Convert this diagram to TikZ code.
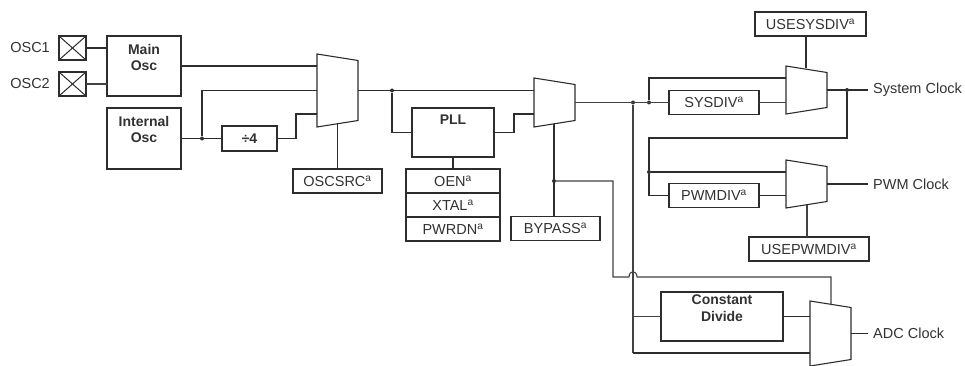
\documentclass[tikz,border=0pt]{standalone}
\usepackage{fontspec}
\setmainfont{Liberation Sans}
\usepackage{xcolor}
\usetikzlibrary{positioning, calc}
\definecolor{cWire}{RGB}{45,45,45}
\definecolor{cText}{RGB}{50,50,50}
\tikzset{
	blk/.style    ={rectangle, draw=cWire, line width=1.3pt, outer sep=0pt, inner sep=0pt, align=center},
	reg/.style    ={blk, minimum height=24pt},
	bigtxt/.style ={inner sep=0pt, align=center, font=\bfseries\fontsize{14}{16.5}\selectfont},
	pad/.style    ={blk, minimum width=27pt, minimum height=24pt, path picture={
			\draw[cWire, line width=1pt] (path picture bounding box.north west) -- (path picture bounding box.south east);
			\draw[cWire, line width=1pt] (path picture bounding box.south west) -- (path picture bounding box.north east);}},
	mux/.style    ={rectangle, outer sep=0pt, inner sep=0pt, minimum width=41pt, minimum height=73pt, append after command={\pgfextra{
			\draw[cWire, line width=1.1pt] (\tikzlastnode.north west) -- ([yshift=-6.5pt]\tikzlastnode.north east) -- ([yshift=6.5pt]\tikzlastnode.south east) -- (\tikzlastnode.south west) -- cycle;}}},
	wire/.style   ={draw=cWire, line width=1.2pt},
	thin wire/.style={draw=cWire!90, line width=1.1pt},
	dot/.style    ={circle, fill=cWire, inner sep=0pt, minimum size=4pt},
	pin/.style    ={inner sep=0pt, anchor=west},
}

\begin{document}
\begin{tikzpicture}[x=1pt, y=-1pt, every node/.style={text=cText, font=\fontsize{14.5}{16.5}\selectfont}]
	\useasboundingbox (0,0) rectangle (965,366);
	% oscillators
	\node[pad] (osca) at (72.5,48) {};
	\node[pad, below=12pt of osca] (oscb) {};
	\node[inner sep=0pt, left=9pt of osca] (oscatxt) {OSC1};
	\node[inner sep=0pt, left=9pt of oscb] (oscbtxt) {OSC2};
	\node[blk, minimum width=74pt, minimum height=60pt] (mainosc) at (144,66) {};
	\node[blk, minimum width=74pt, minimum height=61pt, below=12pt of mainosc] (intosc) {};
	\node[bigtxt, below=8pt of mainosc.north] (mainosctxt) {Main\\Osc};
	\node[bigtxt, below=8pt of intosc.north] (intosctxt) {Internal\\Osc};
	\node[blk, minimum width=55pt, minimum height=25pt, font=\bfseries\fontsize{14}{16}\selectfont] (div4) at (249.5,138.5) {÷4};
	% muxes
	\node[mux] (muxosc) at (337.5,90.5) {};
	\node[mux, minimum height=49pt] (muxpll) at (554.5,102.5) {};
	\node[mux, minimum height=48pt] (muxsys) at (806.5,90) {};
	\node[mux, minimum height=48pt] (muxpwm) at (806.5,184) {};
	\node[mux, minimum height=65pt] (muxadc) at (830.5,333.5) {};
	% pll and its registers
	\node[blk, minimum width=82pt, minimum height=49pt] (pll) at (453,132.5) {};
	\node[bigtxt, below=7pt of pll.north] (plltxt) {PLL};
	\node[reg, minimum width=94pt, below=12pt of pll] (oen) {OEN\textsuperscript{a}};
	\node[reg, minimum width=94pt, below=0pt of oen] (xtal) {XTAL\textsuperscript{a}};
	\node[reg, minimum width=94pt, below=0pt of xtal] (pwrdn) {PWRDN\textsuperscript{a}};
	\node[reg, minimum width=89pt] (oscsrc) at (337.5,181) {OSCSRC\textsuperscript{a}};
	\node[reg, minimum width=89pt] (bypass) at (555.5,228.5) {BYPASS\textsuperscript{a}};
	\node[reg, minimum width=111pt] (usesys) at (810.5,24) {USESYSDIV\textsuperscript{a}};
	\node[reg, minimum width=120pt] (usepwm) at (809,249) {USEPWMDIV\textsuperscript{a}};
	\node[reg, minimum width=90pt] (sysdiv) at (714,102.5) {SYSDIV\textsuperscript{a}};
	\node[reg, minimum width=90pt] (pwmdiv) at (714,195.5) {PWMDIV\textsuperscript{a}};
	\node[blk, minimum width=122pt, minimum height=49pt] (constdiv) at (722,316.5) {};
	\node[bigtxt, below=3pt of constdiv.north] (constdivtxt) {Constant\\Divide};
	% outputs
	\node[pin] (sysclk) at (873,90) {System Clock};
	\node[pin] (pwmclk) at (873,184) {PWM Clock};
	\node[pin] (adcclk) at (873,333.5) {ADC Clock};
	% junctions
	\node[dot] (jpll) at (392,90.5) {};
	\node[dot] (jint) at (202,138.5) {};
	\node[dot] (jbyp) at (554,181) {};
	\node[dot] (jclk) at (633,102.5) {};
	\node[dot] (jsys) at (649,102.5) {};
	\node[dot] (jout) at (847,90) {};
	\node[dot] (jpwm) at (649,172) {};
	\coordinate (jmpa) at (629,277);
	\coordinate (jmpb) at (637,277);
	% left part
	\draw[wire] (osca) -- (osca -| mainosc.west);
	\draw[thin wire] (oscb) -- (oscb -| mainosc.west);
	\draw[wire] (mainosc.east) -- (mainosc.east -| muxosc.west);
	\draw[wire] (intosc.east) -- (div4.west);
	\draw[wire] (jint) |- (muxosc.west);
	\draw[wire] (div4.east) -| (296,114) -- (muxosc.west |- 0,114);
	\draw[wire] (oscsrc.north) -- (337.5,123.5);
	% pll part
	\draw[wire] (muxosc.east) -- (muxpll.west |- muxosc.east);
	\draw[wire] (jpll) |- (pll.west);
	\draw[wire] (pll.east) -| (514,114) -- (muxpll.west |- 0,114);
	\draw[wire] (pll.south) -- (oen.north);
	\draw[wire] (bypass.north -| jbyp) -- (554,124);
	% clock tree
	\draw[thin wire] (muxpll.east) -- (sysdiv.west);
	\draw[thin wire] (sysdiv.east) -- (muxsys.west |- sysdiv.east);
	\draw[wire] (jsys) |- (muxsys.west |- 0,78);
	\draw[wire] (usesys.south -| 806,0) -- (806,68.5);
	\draw[wire] (muxsys.east) -- ([xshift=-5pt]sysclk.west);
	\draw[wire] (jout) |- (jpwm |- 0,138) -- (jpwm);
	\draw[wire] (jpwm) -- (muxpwm.west |- jpwm);
	\draw[wire] (jpwm) |- (pwmdiv.west);
	\draw[wire] (pwmdiv.east) -- (muxpwm.west |- pwmdiv.east);
	\draw[wire] (muxpwm.east) -- ([xshift=-5pt]pwmclk.west);
	\draw[thin wire, line width=1.3pt] (807,205) -- (usepwm.north -| 807,0);
	% adc part
	\draw[thin wire] (jclk) -- (633,353);
	\draw[thin wire] (633,316.5) -- (constdiv.west);
	\draw[wire, line width=1.5pt] (constdiv.east) -- (muxadc.west |- constdiv.east);
	\draw[wire, line width=1.5pt] (633,353) -- (muxadc.west |- 0,353);
	\draw[wire] (muxadc.east) -- ([xshift=-5pt]adcclk.west);
	\draw[thin wire] (jbyp) -| (613,277) -- (jmpa) .. controls +(0,-7) and +(0,-7) .. (jmpb) -| (831,305);
\end{tikzpicture}
\end{document}
